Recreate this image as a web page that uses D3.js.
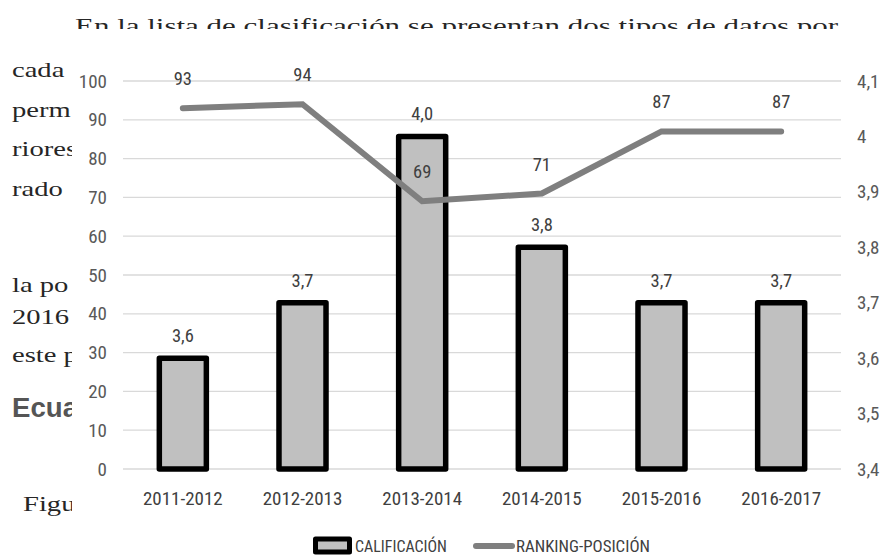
<!DOCTYPE html>
<html>
<head>
<meta charset="utf-8">
<script src="https://cdn.jsdelivr.net/npm/d3@7"></script>
<style>
  body { margin: 0; background: #fff; }
  .chart text { font-family: "Liberation Sans Narrow", "Roboto Condensed", "DejaVu Sans Condensed", "Liberation Sans", sans-serif; }
</style>
</head>
<body>
<svg width="881" height="558"></svg>
<script>
// values
const categories = ["2011-2012", "2012-2013", "2013-2014", "2014-2015", "2015-2016", "2016-2017"];
const calificacion = [3.6, 3.7, 4.0, 3.8, 3.7, 3.7];
const ranking = [93, 94, 69, 71, 87, 87];
const seriesNames = ["CALIFICACIÓN", "RANKING-POSICIÓN"];

// page text behind the figure
const topLine = "En la lista de clasificación se presentan dos tipos de datos por";
const sideWords = ["cada", "perm", "riores", "rado", "la po", "2016", "este p"];
const sideBaselines = [77, 117, 156, 196, 292, 324, 362];

const svg = d3.select("svg");
const plot = {left: 123, right: 841, top: 81, bottom: 469};
const serif = "'Liberation Serif', 'DejaVu Serif', serif";

// ---- background document text
const sx = 1.3;
const docG = svg.append("g").attr("transform", "scale(" + sx + ",1)");

docG.selectAll("text.side")
    .data(sideWords)
    .enter().append("text")
    .attr("class", "side")
    .attr("x", 12 / sx)
    .attr("y", (d, i) => sideBaselines[i])
    .style("font-family", serif)
    .style("font-size", "22px")
    .attr("fill", "#262626")
    .text(d => d);

docG.append("text")
    .attr("x", 23 / sx)
    .attr("y", 511)
    .style("font-family", serif)
    .style("font-size", "22px")
    .attr("fill", "#262626")
    .text("Figu");

svg.append("text")
    .attr("x", 75)
    .attr("y", 33)
    .attr("textLength", 763)
    .attr("lengthAdjust", "spacingAndGlyphs")
    .style("font-family", serif)
    .style("font-size", "22px")
    .attr("fill", "#262626")
    .text(topLine);

svg.append("text")
    .attr("x", 12)
    .attr("y", 417)
    .attr("textLength", 66)
    .attr("lengthAdjust", "spacingAndGlyphs")
    .style("font-family", "'Liberation Sans', Arial, sans-serif")
    .style("font-weight", "bold")
    .style("font-size", "27px")
    .attr("fill", "#555")
    .text("Ecua");

// white figure box covering the page text
svg.append("rect")
    .attr("x", 72).attr("y", 29)
    .attr("width", 881 - 72).attr("height", 558 - 29)
    .attr("fill", "#fff");

const chart = svg.append("g").attr("class", "chart");

// ---- scales
const x = d3.scaleBand()
    .domain(categories)
    .range([plot.left, plot.right])
    .paddingInner(0.607)
    .paddingOuter(0.3035);

const yLeft = d3.scaleLinear().domain([0, 100]).range([plot.bottom, plot.top]);
const yRight = d3.scaleLinear().domain([3.4, 4.1]).range([plot.bottom, plot.top]);

const comma = d => String(+d.toFixed(1)).replace(".", ",");

// gridlines
chart.append("g")
    .selectAll("line")
    .data(yLeft.ticks(10))
    .enter().append("line")
    .attr("x1", plot.left).attr("x2", plot.right)
    .attr("y1", d => yLeft(d)).attr("y2", d => yLeft(d))
    .attr("stroke", "#d9d9d9")
    .attr("stroke-width", 1.3);

// left axis
const leftAxis = chart.append("g")
    .attr("transform", "translate(" + (plot.left - 16) + ",0)")
    .call(d3.axisLeft(yLeft).ticks(10).tickSize(0).tickPadding(0));
leftAxis.select(".domain").remove();
leftAxis.selectAll("text")
    .style("font-size", "19px")
    .attr("fill", "#595959");

// right axis
const rightAxis = chart.append("g")
    .attr("transform", "translate(" + (plot.right + 16) + ",0)")
    .call(d3.axisRight(yRight).ticks(7).tickSize(0).tickPadding(0).tickFormat(comma));
rightAxis.select(".domain").remove();
rightAxis.selectAll("text")
    .style("font-size", "19px")
    .attr("fill", "#595959");

// category labels
const xAxis = chart.append("g")
    .attr("transform", "translate(0," + plot.bottom + ")")
    .call(d3.axisBottom(x).tickSize(0).tickPadding(23));
xAxis.select(".domain").remove();
xAxis.selectAll("text")
    .style("font-size", "19px")
    .attr("fill", "#404040");

// bars (right axis)
chart.append("g")
    .selectAll("rect")
    .data(calificacion)
    .enter().append("rect")
    .attr("x", (d, i) => x(categories[i]))
    .attr("y", d => yRight(d))
    .attr("width", x.bandwidth())
    .attr("height", d => yRight(3.4) - yRight(d))
    .attr("fill", "#c0c0c0")
    .attr("stroke", "#000")
    .attr("stroke-width", 5.5)
    .attr("stroke-linejoin", "round");

chart.append("g")
    .selectAll("text")
    .data(calificacion)
    .enter().append("text")
    .attr("x", (d, i) => x(categories[i]) + x.bandwidth() / 2)
    .attr("y", d => yRight(d) - 16)
    .attr("text-anchor", "middle")
    .style("font-size", "18.5px")
    .attr("fill", "#404040")
    .text(d => d.toFixed(1).replace(".", ","));

// ranking line (left axis)
const line = d3.line()
    .x((d, i) => x(categories[i]) + x.bandwidth() / 2)
    .y(d => yLeft(d));

chart.append("path")
    .datum(ranking)
    .attr("d", line)
    .attr("fill", "none")
    .attr("stroke", "#7f7f7f")
    .attr("stroke-width", 6)
    .attr("stroke-linecap", "round");

chart.append("g")
    .selectAll("text")
    .data(ranking)
    .enter().append("text")
    .attr("x", (d, i) => x(categories[i]) + x.bandwidth() / 2)
    .attr("y", d => yLeft(d) - 23)
    .attr("text-anchor", "middle")
    .style("font-size", "18.5px")
    .attr("fill", "#404040")
    .text(d => d);

// legend
const legend = chart.append("g");
legend.append("rect")
    .attr("x", 315.5).attr("y", 539)
    .attr("width", 34).attr("height", 13)
    .attr("fill", "#c0c0c0")
    .attr("stroke", "#000")
    .attr("stroke-width", 5)
    .attr("stroke-linejoin", "round");
legend.append("text")
    .attr("x", 355).attr("y", 552)
    .attr("textLength", 92)
    .attr("lengthAdjust", "spacingAndGlyphs")
    .style("font-size", "17px")
    .attr("fill", "#404040")
    .text(seriesNames[0]);
legend.append("line")
    .attr("x1", 476).attr("x2", 512)
    .attr("y1", 546).attr("y2", 546)
    .attr("stroke", "#7f7f7f")
    .attr("stroke-width", 6)
    .attr("stroke-linecap", "round");
legend.append("text")
    .attr("x", 516).attr("y", 552)
    .attr("textLength", 134)
    .attr("lengthAdjust", "spacingAndGlyphs")
    .style("font-size", "17px")
    .attr("fill", "#404040")
    .text(seriesNames[1]);
</script>
</body>
</html>
